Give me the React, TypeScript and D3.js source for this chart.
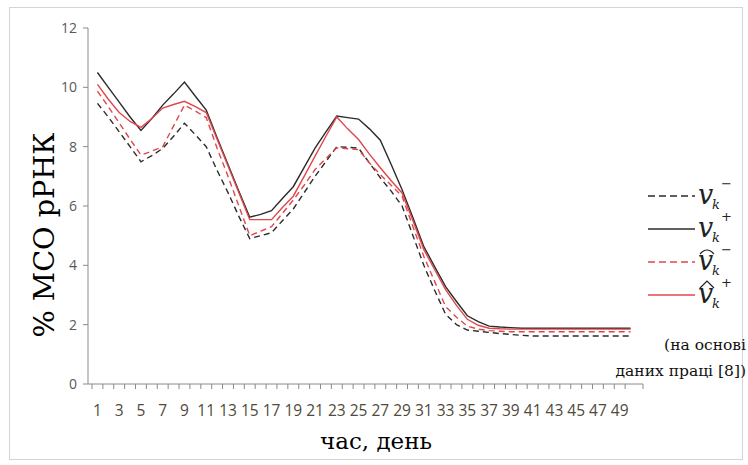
import React from "react";
import * as d3 from "d3";

// days on the category axis
const days = [
  1, 2, 3, 4, 5, 6, 7, 8, 9, 10, 11, 12, 13, 14, 15, 16, 17, 18, 19, 20, 21, 22, 23, 24, 25,
  26, 27, 28, 29, 30, 31, 32, 33, 34, 35, 36, 37, 38, 39, 40, 41, 42, 43, 44, 45, 46, 47, 48, 49, 50,
];

// v_k^- (black dashed)
const vMinus = [
  9.46, 9.0, 8.5, 8.0, 7.49, 7.7, 7.94, 8.35, 8.79, 8.4, 8.0, 7.2, 6.45, 5.65, 4.9, 5.0, 5.1, 5.5, 5.9, 6.45,
  7.0, 7.5, 8.0, 7.98, 7.95, 7.45, 6.95, 6.5, 6.0, 5.0, 4.0, 3.15, 2.35, 2.0, 1.82, 1.78, 1.74, 1.7, 1.67, 1.64,
  1.62, 1.62, 1.62, 1.62, 1.62, 1.62, 1.62, 1.62, 1.62, 1.62,
];
// v_k^+ (black solid)
const vPlus = [
  10.5, 10.0, 9.5, 9.0, 8.55, 8.95, 9.4, 9.78, 10.18, 9.7, 9.23, 8.3, 7.4, 6.5, 5.62, 5.72, 5.84, 6.25, 6.65, 7.3,
  7.95, 8.5, 9.03, 8.98, 8.93, 8.6, 8.22, 7.4, 6.55, 5.6, 4.63, 3.95, 3.28, 2.78, 2.3, 2.1, 1.95, 1.92, 1.9, 1.88,
  1.88, 1.88, 1.88, 1.88, 1.88, 1.88, 1.88, 1.88, 1.88, 1.88,
];
// tilde v_k^- (red dashed)
const vTildeMinus = [
  9.87, 9.35, 8.8, 8.25, 7.72, 7.85, 8.0, 8.7, 9.4, 9.2, 8.98, 7.95, 7.0, 6.0, 5.0, 5.15, 5.3, 5.75, 6.2, 6.7,
  7.23, 7.6, 7.96, 7.93, 7.9, 7.45, 7.06, 6.7, 6.33, 5.3, 4.3, 3.45, 2.61, 2.25, 1.95, 1.85, 1.8, 1.78, 1.76, 1.76,
  1.76, 1.76, 1.76, 1.76, 1.76, 1.76, 1.76, 1.76, 1.76, 1.76,
];
// hat v_k^+ (red solid)
const vHatPlus = [
  10.1, 9.6, 9.15, 8.85, 8.65, 8.95, 9.3, 9.42, 9.53, 9.35, 9.15, 8.25, 7.35, 6.45, 5.54, 5.54, 5.54, 5.95, 6.33, 7.0,
  7.68, 8.35, 9.0, 8.6, 8.24, 7.75, 7.29, 6.85, 6.44, 5.5, 4.53, 3.85, 3.18, 2.65, 2.18, 1.98, 1.88, 1.86, 1.85, 1.85,
  1.85, 1.85, 1.85, 1.85, 1.85, 1.85, 1.85, 1.85, 1.85, 1.85,
];

const yTicks = [0, 2, 4, 6, 8, 10, 12];
const xTickLabels = [1, 3, 5, 7, 9, 11, 13, 15, 17, 19, 21, 23, 25, 27, 29, 31, 33, 35, 37, 39, 41, 43, 45, 47, 49];

const series = [
  { values: vMinus, color: "#2b2b2b", dash: "6,4", sign: "−", mark: "" },
  { values: vPlus, color: "#2b2b2b", dash: "", sign: "+", mark: "" },
  { values: vTildeMinus, color: "#e0474c", dash: "6,4", sign: "−", mark: "arch" },
  { values: vHatPlus, color: "#e0474c", dash: "", sign: "+", mark: "hat" },
];

const W = 748;
const H = 465;
const axisLeft = 88;
const axisRight = 643;
const serif = "'DejaVu Serif', 'Liberation Serif', serif";
const sans = "'Open Sans', 'Liberation Sans', sans-serif";

const App = () => {
  const x = d3.scaleBand<number>().domain(days).range([92, 636]).paddingInner(0);
  const y = d3.scaleLinear().domain([0, 12]).range([384, 28]);
  const bw = x.bandwidth();
  const cx = (d: number) => (x(d) as number) + bw / 2;

  const line = d3
    .line<number>()
    .x((_, i) => cx(days[i]))
    .y((v) => y(v));

  const legendY = [196, 229, 262, 295];

  return (
    <svg
      width={W}
      height={H}
      style={{ position: "absolute", left: 0, top: 0, background: "#fff" }}
    >
      <rect x={9.5} y={7.5} width={733} height={452} fill="#fff" stroke="#d4d4d4" />

      {/* y axis */}
      <line x1={axisLeft} x2={axisLeft} y1={y(12)} y2={y(0)} stroke="#8a8a8a" />
      {yTicks.map((t) => (
        <g key={t}>
          <line x1={axisLeft - 5} x2={axisLeft} y1={y(t)} y2={y(t)} stroke="#8a8a8a" />
          <text
            x={77}
            y={y(t)}
            dy="0.35em"
            textAnchor="end"
            fontFamily={sans}
            fontSize={14}
            fill="#595959"
          >
            {t}
          </text>
        </g>
      ))}

      {/* x axis */}
      <line x1={axisLeft} x2={axisRight} y1={y(0)} y2={y(0)} stroke="#8a8a8a" />
      {days.map((d) => (
        <line
          key={d}
          x1={x(d) as number}
          x2={x(d) as number}
          y1={y(0)}
          y2={y(0) + 5}
          stroke="#8a8a8a"
        />
      ))}
      <line x1={axisRight} x2={axisRight} y1={y(0)} y2={y(0) + 5} stroke="#8a8a8a" />
      {xTickLabels.map((d) => (
        <text
          key={d}
          x={cx(d)}
          y={416}
          textAnchor="middle"
          fontFamily={sans}
          fontSize={15.5}
          fill="#4f4a3a"
        >
          {d}
        </text>
      ))}

      {/* series */}
      {series.map((s, i) => (
        <path
          key={i}
          d={line(s.values) || ""}
          fill="none"
          stroke={s.color}
          strokeWidth={1.4}
          strokeDasharray={s.dash || undefined}
        />
      ))}

      {/* axis titles */}
      <text
        transform={`translate(54, 235) rotate(-90)`}
        textAnchor="middle"
        fontFamily={serif}
        fontSize={27}
        textLength={205}
        lengthAdjust="spacingAndGlyphs"
        fill="#000"
      >
        % МСО рРНК
      </text>
      <text x={376} y={449} textAnchor="middle" fontFamily={serif} fontSize={23} fill="#000">
        час, день
      </text>

      {/* legend */}
      {series.map((s, i) => {
        const ly = legendY[i];
        return (
          <g key={i}>
            <line
              x1={648}
              x2={695}
              y1={ly}
              y2={ly}
              stroke={s.color}
              strokeWidth={1.5}
              strokeDasharray={s.dash ? "7,4" : undefined}
            />
            <text x={698} y={ly + 8} fontFamily={serif} fontStyle="italic" fontSize={27} fill="#222">
              v
            </text>
            <text x={712} y={ly + 13} fontFamily={serif} fontStyle="italic" fontSize={13} fill="#222">
              k
            </text>
            <text x={721} y={ly - 8} fontFamily={serif} fontSize={13} fill="#222">
              {s.sign}
            </text>
            {s.mark === "arch" && (
              <path
                d={`M700,${ly - 8} Q707,${ly - 16} 714,${ly - 8}`}
                fill="none"
                stroke="#222"
                strokeWidth={1.2}
              />
            )}
            {s.mark === "hat" && (
              <path
                d={`M700,${ly - 7} L707,${ly - 14} L714,${ly - 7}`}
                fill="none"
                stroke="#222"
                strokeWidth={1.2}
              />
            )}
          </g>
        );
      })}

      {/* source note */}
      <text x={746} y={350} textAnchor="end" fontFamily={serif} fontSize={15.5} fill="#111">
        (на основі
      </text>
      <text x={746} y={376} textAnchor="end" fontFamily={serif} fontSize={15.5} fill="#111">
        даних праці [8])
      </text>
    </svg>
  );
};

export default App;
